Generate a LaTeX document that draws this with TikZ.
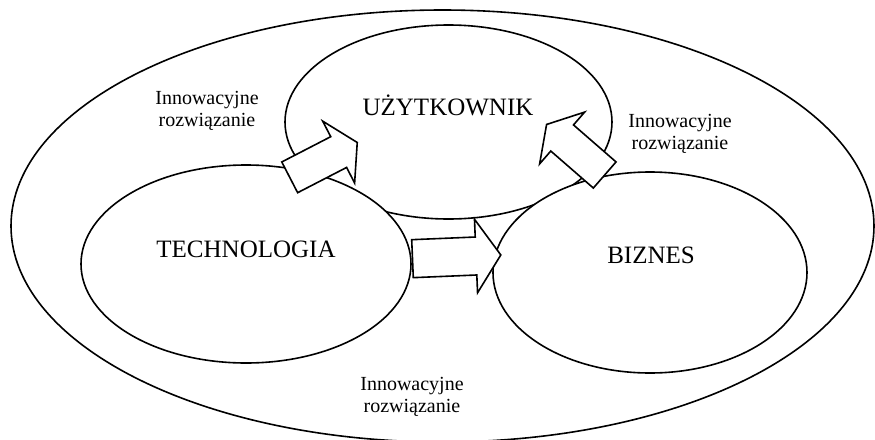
\documentclass[tikz,border=0pt]{standalone}
\usepackage{fontspec}
\setmainfont{Liberation Serif}
\usetikzlibrary{shapes.geometric,shapes.arrows}
\begin{document}
\begin{tikzpicture}[x=.5pt,y=-.5pt,
  zbior/.style={draw,ellipse,fill=white,line width=.8pt,inner sep=0pt},
  strzala/.style={draw,fill=white,single arrow,line width=.8pt,inner sep=0pt,anchor=tail},
  duzy/.style={font=\fontsize{12.5pt}{15pt}\selectfont,anchor=base},
  maly/.style={font=\fontsize{10pt}{11pt}\selectfont,align=center}]
  \useasboundingbox (0,0) rectangle (875,440);
  \node[zbior,minimum width=431.5pt,minimum height=216pt] (calosc) at (442.5,226) {};
  \node[zbior,minimum width=163.5pt,minimum height=97pt] (uzytkownik) at (448.5,122) {};
  \node[zbior,minimum width=165pt,minimum height=99pt] (technologia) at (246,264) {};
  \node[zbior,minimum width=157pt,minimum height=100.5pt] (biznes) at (650,272.5) {};
  \node[strzala,rotate=27.3,minimum height=38pt,inner ysep=8.25pt,single arrow head extend=8.75pt,single arrow tip angle=118] (strzTU) at (289,177.7) {};
  \node[strzala,rotate=2.4,minimum height=44.2pt,inner ysep=9.1pt,single arrow head extend=8.9pt,single arrow tip angle=112] (strzTB) at (411.7,258.7) {};
  \node[strzala,rotate=139,minimum height=38.5pt,inner ysep=8.25pt,single arrow head extend=8.5pt,single arrow tip angle=118] (strzBU) at (605.3,175.5) {};
  \node[duzy] (uzyt) at (448,115) {UŻYTKOWNIK};
  \node[duzy] (tech) at (246,257) {TECHNOLOGIA};
  \node[duzy] (bizn) at (651,263.5) {BIZNES};
  \node[maly] (innA) at (207,110.5) {Innowacyjne\\rozwiązanie};
  \node[maly] (innB) at (680,133.5) {Innowacyjne\\rozwiązanie};
  \node[maly] (innC) at (412,397) {Innowacyjne\\rozwiązanie};
\end{tikzpicture}
\end{document}
